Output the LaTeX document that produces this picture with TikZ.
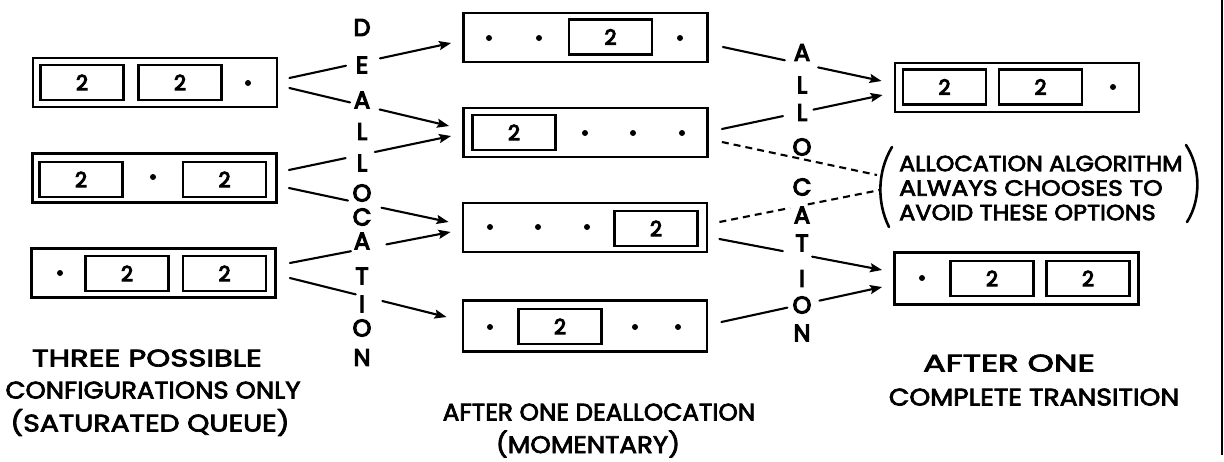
\documentclass[tikz,border=0pt]{standalone}
\usepackage{fontspec}
\setmainfont{Poppins}
\newfontfamily\hand{Poppins}[FakeBold=3]
\newfontfamily\handheavy{Poppins}[FakeBold=5]
\usetikzlibrary{arrows.meta,calc}

% split connector: a plain line up to the letter column, then an arrow on to the target
\newcommand\splitlink[4]{%
  \draw[link] (#1) -- ($(#1)!#3!(#2)$);
  \draw[arr] ($(#1)!#4!(#2)$) -- (#2);}
% hand lettering is wider than the type: stretch a line sideways
\newcommand\wideline[2]{\scalebox{#1}[1]{#2}}

\begin{document}
\begin{tikzpicture}[x=1pt,y=-1pt,
  frame/.style={draw, line width=2.8pt, minimum width=244pt, minimum height=49pt, inner sep=0pt},
  cell/.style={draw, line width=2.3pt, minimum width=83pt, minimum height=35pt, inner sep=0pt,
               font=\handheavy\fontsize{21}{21}\selectfont},
  slot/.style={circle, fill, inner sep=0pt, minimum size=6pt},
  link/.style={line width=2.1pt, line cap=round},
  arr/.style={link, -{Stealth[length=12pt,width=9pt,inset=2pt]}},
  avoid/.style={link, line cap=butt, dash pattern=on 7pt off 5pt},
  letter/.style={font=\handheavy\fontsize{24}{24}\selectfont, inner sep=0pt},
  caption/.style={font=\hand\fontsize{24}{24}\selectfont, inner sep=0pt, anchor=base},
  remark/.style={font=\hand\fontsize{22}{24.5}\selectfont, align=left, inner sep=0pt},
]
\useasboundingbox (0,0) rectangle (1224,461);

% ---------- saturated configurations ----------
\node[frame] (L1) at (155,82.5) {};
\node[cell] (L1a) at (82,82.5) {2};
\node[cell] (L1b) at (180,82.5) {2};
\node[slot] (L1c) at (248,83) {};

\node[frame] (L2) at (154.5,178) {};
\node[cell] (L2a) at (81,179.5) {2};
\node[slot] (L2b) at (153,177) {};
\node[cell] (L2c) at (224.5,179.5) {2};

\node[frame] (L3) at (153.5,273) {};
\node[slot] (L3a) at (60,273) {};
\node[cell] (L3b) at (127,273.5) {2};
\node[cell] (L3c) at (224.5,273.5) {2};

% ---------- after one deallocation ----------
\node[frame] (M1) at (585.5,37.5) {};
\node[slot] (M1a) at (489,38) {};
\node[slot] (M1b) at (539,38) {};
\node[cell] (M1c) at (610.5,37) {2};
\node[slot] (M1d) at (680,38) {};

\node[frame] (M2) at (585.5,132.5) {};
\node[cell] (M2a) at (514,132.5) {2};
\node[slot] (M2b) at (585,133) {};
\node[slot] (M2c) at (633,133) {};
\node[slot] (M2d) at (682,133) {};

\node[frame] (M3) at (585,227.5) {};
\node[slot] (M3a) at (490,227) {};
\node[slot] (M3b) at (538,227) {};
\node[slot] (M3c) at (587,227) {};
\node[cell] (M3d) at (656,228.5) {2};

\node[frame, minimum height=51pt] (M4) at (585,326) {};
\node[slot] (M4a) at (490,327) {};
\node[cell] (M4b) at (560,326.5) {2};
\node[slot] (M4c) at (635,327) {};
\node[slot] (M4d) at (678,327) {};

% ---------- after one complete transition ----------
\node[frame] (R1) at (1017,87.5) {};
\node[cell] (R1a) at (944.5,87) {2};
\node[cell] (R1b) at (1040.5,87) {2};
\node[slot] (R1c) at (1113,87) {};

\node[frame, minimum height=52pt] (R2) at (1016.5,278.5) {};
\node[slot] (R2a) at (922,278) {};
\node[cell] (R2b) at (992,278.5) {2};
\node[cell] (R2c) at (1088,278.5) {2};

% ---------- vertical labels ----------
\foreach \ch/\yy [count=\i] in {D/27.5,E/65,A/100,L/131.5,L/163,O/193,C/217,A/241,T/276,I/304,O/328,N/357.5}
  \node[letter] (dl\i) at (362,\yy) {\ch};
\foreach \ch/\yy [count=\i] in {A/52.5,L/85,L/112.5,O/147,C/187,A/215,T/243,I/278.5,O/305,N/333}
  \node[letter] (al\i) at (802,\yy) {\ch};

% ---------- deallocation transitions ----------
\coordinate (s1) at ($(L1.east)+(11,-4.5)$);
\coordinate (s2) at ($(L1.east)+(11,5.5)$);
\coordinate (s3) at ($(L2.east)+(11,-8)$);
\coordinate (s4) at ($(L2.east)+(11,10)$);
\coordinate (s5) at ($(L3.east)+(13,-10)$);
\coordinate (s6) at ($(L3.east)+(13,5)$);
\coordinate (t1) at ($(M1.west)+(-11,5.5)$);
\coordinate (t2) at ($(M2.west)+(-13,-6.5)$);
\coordinate (t3) at ($(M2.west)+(-11,3.5)$);
\coordinate (t4) at ($(M3.west)+(-13,-5.5)$);
\coordinate (t5) at ($(M3.west)+(-11,4.5)$);
\coordinate (t6) at ($(M4.west)+(-15,-9)$);

\splitlink{s1}{t1}{0.35}{0.56}
\splitlink{s2}{t2}{0.38}{0.565}
\splitlink{s3}{t3}{0.35}{0.53}
\splitlink{s4}{t4}{0.37}{0.58}
\splitlink{s5}{t5}{0.38}{0.60}
\splitlink{s6}{t6}{0.42}{0.59}

% ---------- allocation transitions ----------
\coordinate (u7) at ($(M1.east)+(14,9.5)$);
\coordinate (u8) at ($(M2.east)+(13,-3.5)$);
\coordinate (u9) at ($(M2.east)+(13,9.5)$);
\coordinate (u10) at ($(M3.east)+(11,-5.5)$);
\coordinate (u11) at ($(M3.east)+(11,11.5)$);
\coordinate (u12) at ($(M4.east)+(13,-4)$);
\coordinate (v7) at ($(R1.west)+(-12,-6.5)$);
\coordinate (v8) at ($(R1.west)+(-11,7.5)$);
\coordinate (v11) at ($(R2.west)+(-11,-8.5)$);
\coordinate (v12) at ($(R2.west)+(-11,8.5)$);
\coordinate (w9) at (877,175);
\coordinate (w10) at (880,190);

\splitlink{u7}{v7}{0.39}{0.60}
\splitlink{u8}{v8}{0.38}{0.57}
\splitlink{u11}{v11}{0.39}{0.57}
\splitlink{u12}{v12}{0.41}{0.61}

% rejected options
\draw[avoid] (u9) -- (w9);
\draw[avoid] (u10) -- ($(u10)!0.44!(w10)$);
\draw[avoid] ($(u10)!0.55!(w10)$) -- (w10);

% ---------- remark ----------
\node[remark, anchor=west] (note) at (899,188)
  {\wideline{1.08}{ALLOCATION ALGORITHM}\\\wideline{1.14}{ALWAYS CHOOSES TO}\\\wideline{1.09}{AVOID THESE OPTIONS}};
\draw[link, line width=2.6pt] (892,147) .. controls (877,172) and (877,203) .. (889,227);
\draw[link, line width=2.6pt] (1186,145) .. controls (1201,168) and (1201,200) .. (1187,222);

% ---------- captions ----------
\node[caption] (capL1) at (147,366.5) {\wideline{1.28}{THREE POSSIBLE}};
\node[caption] (capL2) at (153,398.5) {\wideline{1.08}{CONFIGURATIONS ONLY}};
\node[caption] (capL3) at (150,431.5) {\wideline{1.18}{(SATURATED QUEUE)}};
\node[caption] (capM1) at (599,420.5) {\wideline{1.03}{AFTER ONE DEALLOCATION}};
\node[caption] (capM2) at (588,453) {\wideline{1.09}{(MOMENTARY)}};
\node[caption] (capR1) at (1009,371.5) {\wideline{1.4}{AFTER ONE}};
\node[caption] (capR2) at (1034,405.5) {\wideline{1.11}{COMPLETE TRANSITION}};

% sheet edge
\draw[line width=2pt] (1222,0) -- (1222,455);
\end{tikzpicture}
\end{document}
